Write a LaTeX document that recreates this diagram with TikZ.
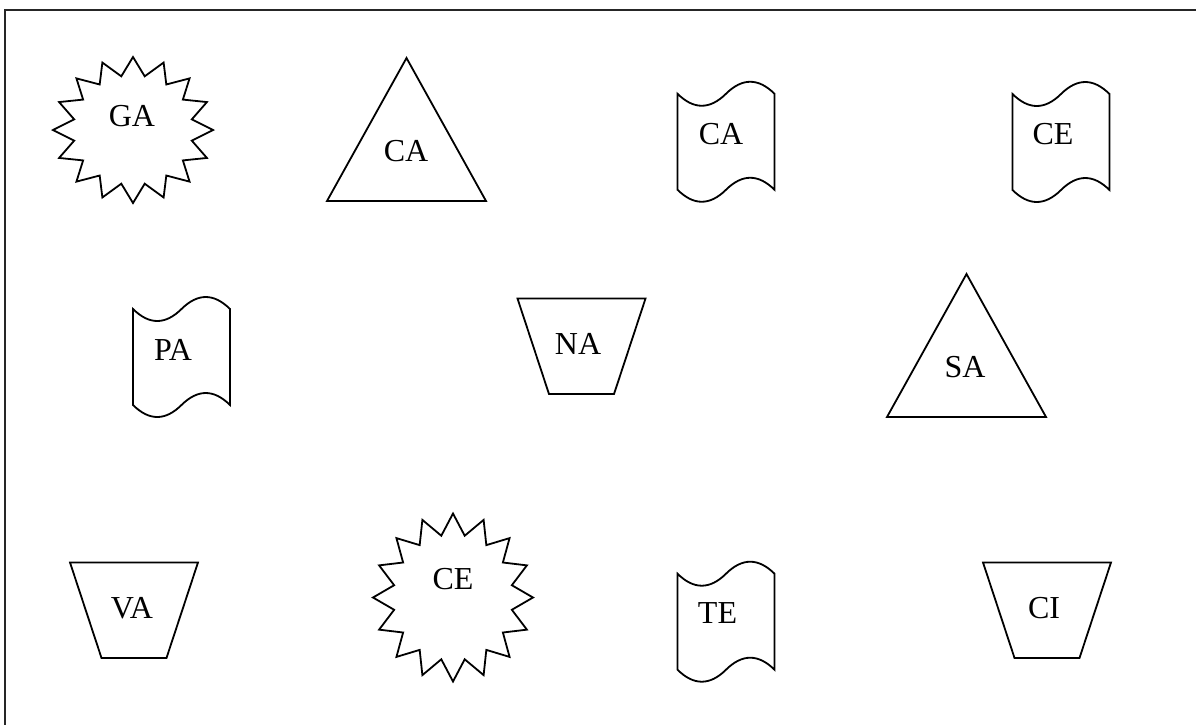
\documentclass[tikz,border=0pt]{standalone}
\usepackage{fontspec}
\setmainfont{Liberation Serif}
\begin{document}
\begin{tikzpicture}[x=1pt, y=-1pt]
\tikzset{
  outline/.style={draw=black, line width=1.8pt, line join=miter},
  framing/.style={draw=black!85, line width=2pt},
  lbl/.style={font=\fontsize{32}{32}\selectfont, inner sep=0pt},
  % 16-point burst, radii #1 (horizontal) and #2 (vertical), inner ratio 0.75
  pics/burst/.style 2 args={code={
    \draw[outline] plot[domain=0:31, samples=32, variable=\k]
      ({(1-0.25*mod(round(\k),2))*#1*sin(\k*11.25)},
       {-(1-0.25*mod(round(\k),2))*#2*cos(\k*11.25)}) -- cycle;
  }},
  % triangle, placed by the middle of its base
  pics/tri/.style={code={
    \draw[outline] (-79.5,0) -- (0,-143) -- (79.5,0) -- cycle;
  }},
  % inverted trapezium, placed by its centre
  pics/trap/.style={code={
    \draw[outline] (-64,-47.75) -- (64,-47.75) -- (32.5,47.75) -- (-32.5,47.75) -- cycle;
  }},
  % waving tape, placed by its centre
  pics/tapeshape/.style={code={
    \draw[outline] (-48.5,-48) .. controls (-32.3,-32) and (-16.2,-32) .. (0,-48)
      .. controls (16.2,-64) and (32.3,-64) .. (48.5,-48) -- (48.5,48)
      .. controls (32.3,32) and (16.2,32) .. (0,48)
      .. controls (-16.2,64) and (-32.3,64) .. (-48.5,48) -- cycle;
  }},
}
\useasboundingbox (0,0) rectangle (1196,724);
\fill[white] (0,0) rectangle (1196,724);

% surrounding frame (top and left edges)
\draw[framing] (5,730) -- (5,10) -- (1200,10);

% row 1
\pic at (133,130) {burst={80}{73}};
\node[lbl] (ga) at (132,116) {GA};

\pic at (406.5,201) {tri};
\node[lbl] (ca1) at (406,151) {CA};

\pic at (726,141.75) {tapeshape};
\node[lbl] (ca2) at (721,134) {CA};

\pic at (1061,142) {tapeshape};
\node[lbl] (ce1) at (1053,134) {CE};

% row 2
\pic at (181.5,357) {tapeshape};
\node[lbl] (pa) at (173,349.5) {PA};

\pic at (581.5,346.3) {trap};
\node[lbl] (na) at (578,344) {NA};

\pic at (966.5,417) {tri};
\node[lbl] (sa) at (965,367) {SA};

% row 3
\pic at (134,610.2) {trap};
\node[lbl] (va) at (132,608) {VA};

\pic at (453,597.5) {burst={80}{84}};
\node[lbl] (ce2) at (453,579) {CE};

\pic at (726,621.7) {tapeshape};
\node[lbl] (te) at (717.5,613) {TE};

\pic at (1047,610.2) {trap};
\node[lbl] (ci) at (1044,608) {CI};
\end{tikzpicture}
\end{document}
